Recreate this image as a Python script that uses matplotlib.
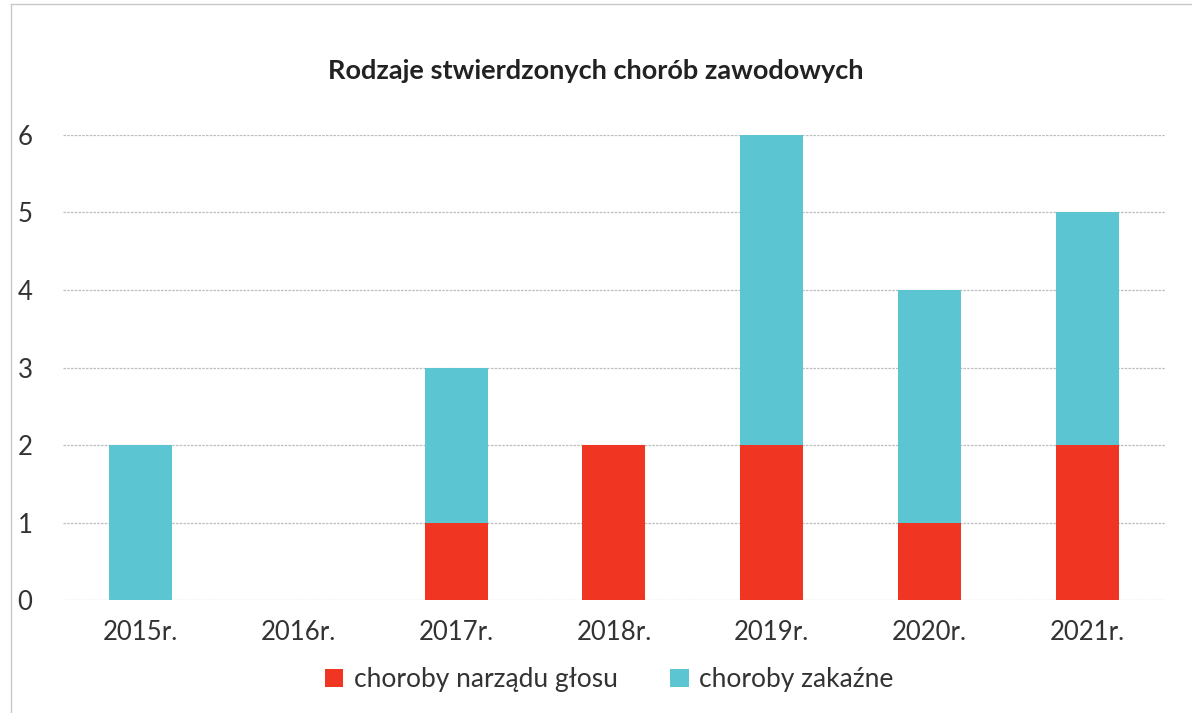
import matplotlib.pyplot as plt
import numpy as np

lata = ["2015r.", "2016r.", "2017r.", "2018r.", "2019r.", "2020r.", "2021r."]
glos = [0, 0, 1, 2, 2, 1, 2]
zakazne = [2, 0, 2, 0, 4, 3, 3]

plt.rcParams['font.family'] = ['Lato', 'DejaVu Sans']

fig = plt.figure(figsize=(11.92, 7.13), dpi=100)
ax = fig.add_axes([0.053, 0.158, 0.924, 0.653])

x = np.arange(len(lata))
ax.bar(x, glos, width=0.4, color="#F03523", label="choroby narządu głosu", zorder=3)
ax.bar(x, zakazne, width=0.4, bottom=glos, color="#5BC6D2", label="choroby zakaźne", zorder=3)

ax.set_xlim(-0.49, 6.49)
ax.set_ylim(0, 6)
ax.set_yticks(range(0, 7))
ax.set_xticks(x)
ax.set_xticklabels(lata)
ax.tick_params(axis='both', length=0, labelsize=18.5, colors="#333333")
ax.tick_params(axis='y', pad=22)
ax.tick_params(axis='x', pad=14)
ax.grid(axis='y', color="#bdbdbd", linewidth=0.9, linestyle=(0, (2, 1)), zorder=0)
for s in ax.spines.values():
    s.set_visible(False)

fig.text(0.5, 0.9, "Rodzaje stwierdzonych chorób zawodowych", ha='center', va='center',
         fontsize=19.5, fontweight='bold', color="#222222")

fig.legend(loc='center', bbox_to_anchor=(0.511, 0.047), ncol=2, frameon=False,
           fontsize=19, handlelength=0.7, handleheight=0.7, handletextpad=0.4,
           columnspacing=2.0, labelcolor="#333333")

# ramka wykresu
fig.add_artist(plt.Line2D([0.009, 0.009], [0.0, 0.995], color="#c8c8c8", lw=1))
fig.add_artist(plt.Line2D([0.009, 1.0], [0.995, 0.995], color="#c8c8c8", lw=1))

fig.savefig("out.png", dpi=100)
